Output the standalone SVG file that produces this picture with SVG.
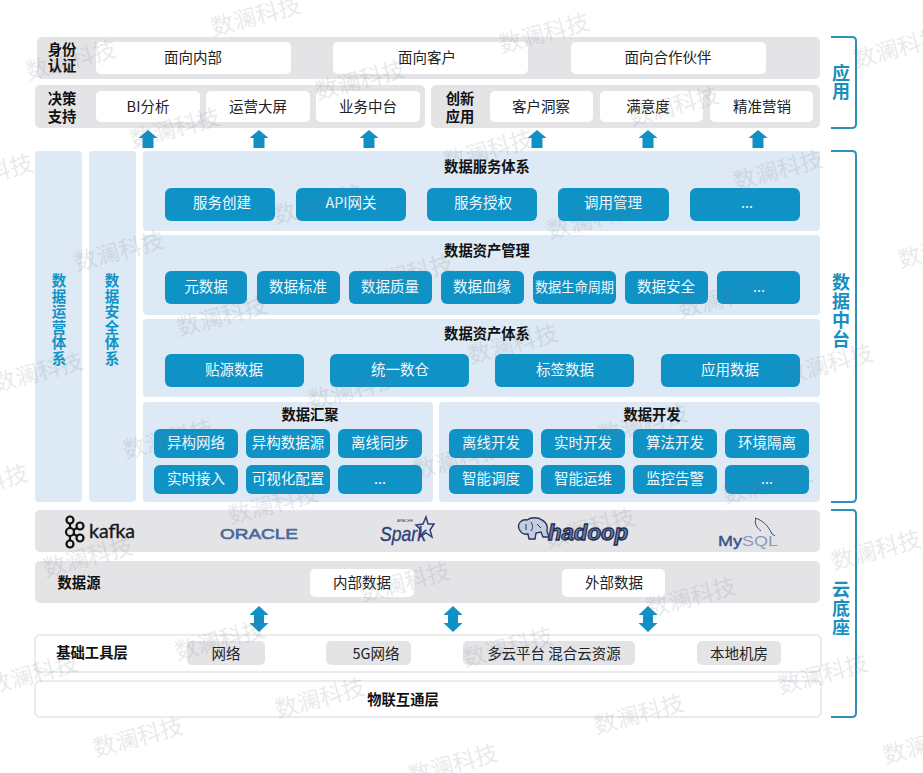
<svg xmlns="http://www.w3.org/2000/svg" width="923" height="773" viewBox="0 0 923 773">
<style>
text{font-family:"Noto Sans CJK SC","Liberation Sans",sans-serif;text-anchor:middle}
.g{fill:#e4e4e7}.w{fill:#fff}.p{fill:#dde9f4}.b{fill:#0f93c7}.o{fill:#fff;stroke:#e3e5e8;stroke-width:1.5}.c{fill:#e4e4e7}
.t{font-size:14.500px;fill:#222}.h{font-size:14.300px;font-weight:700;fill:#111}.bt{font-size:14.500px;fill:#f2fafd}
.v{font-size:14.500px;font-weight:700;fill:#0f93c7}.s{font-size:18px;font-weight:700;fill:#1a8fbd}
.br{fill:none;stroke:#2b93b7;stroke-width:2}
.wm{font-size:23px;fill:#6f7680;opacity:.15;font-weight:400}
.lg{font-family:"Liberation Sans",sans-serif}
</style>
<defs>
<path id="up" d="M0 0L9.500 8H5.500V18H-5.500V8H-9.500Z" fill="#1190c5"/>
<path id="dbl" d="M0 0L9.500 9H5V17H9.500L0 26L-9.500 17H-5V9H-9.500Z" fill="#1190c5"/>
</defs>

<g id="row-identity">
<rect class="g" x="37" y="37" width="783" height="42" rx="5"/>
<text class="h" x="62" y="55">身份</text><text class="h" x="62" y="71">认证</text>
<rect class="w" x="96" y="42" width="195" height="32" rx="5"/><text class="t" x="193" y="63">面向内部</text>
<rect class="w" x="333" y="42" width="195" height="32" rx="5"/><text class="t" x="427" y="63">面向客户</text>
<rect class="w" x="571" y="42" width="195" height="32" rx="5"/><text class="t" x="668" y="63">面向合作伙伴</text>
</g>
<g id="row-decision">
<rect class="g" x="35" y="85" width="390" height="43" rx="5"/>
<text class="h" x="62" y="104">决策</text><text class="h" x="62" y="122">支持</text>
<rect class="w" x="96" y="91" width="104" height="31" rx="5"/><text class="t" x="148" y="112">BI分析</text>
<rect class="w" x="206" y="91" width="104" height="31" rx="5"/><text class="t" x="258" y="112">运营大屏</text>
<rect class="w" x="316" y="91" width="104" height="31" rx="5"/><text class="t" x="368" y="112">业务中台</text>
</g>
<g id="row-innovation">
<rect class="g" x="431" y="85" width="389" height="43" rx="5"/>
<text class="h" x="460" y="104">创新</text><text class="h" x="460" y="122">应用</text>
<rect class="w" x="490" y="91" width="103" height="31" rx="5"/><text class="t" x="541" y="112">客户洞察</text>
<rect class="w" x="600" y="91" width="103" height="31" rx="5"/><text class="t" x="648" y="112">满意度</text>
<rect class="w" x="710" y="91" width="103" height="31" rx="5"/><text class="t" x="762" y="112">精准营销</text>
</g>
<g id="connectors">
<use href="#up" x="148" y="130"/><use href="#up" x="259" y="130"/><use href="#up" x="369" y="130"/>
<use href="#up" x="537" y="130"/><use href="#up" x="648" y="130"/><use href="#up" x="758" y="130"/>
<use href="#dbl" x="259" y="606"/><use href="#dbl" x="453" y="606"/><use href="#dbl" x="648" y="606"/>
</g>
<g id="col-ops"><rect class="p" x="35" y="151" width="47" height="351" rx="4"/>
<text class="v" x="59" y="286">数</text><text class="v" x="59" y="301.500">据</text><text class="v" x="59" y="317">运</text><text class="v" x="59" y="332.500">营</text><text class="v" x="59" y="348">体</text><text class="v" x="59" y="363.500">系</text></g>
<g id="col-security"><rect class="p" x="89" y="151" width="47" height="351" rx="4"/>
<text class="v" x="112" y="286">数</text><text class="v" x="112" y="301.500">据</text><text class="v" x="112" y="317">安</text><text class="v" x="112" y="332.500">全</text><text class="v" x="112" y="348">体</text><text class="v" x="112" y="363.500">系</text></g>

<g id="panel-service">
<rect class="p" x="143" y="151" width="677" height="80" rx="4"/>
<text class="h" x="487" y="172">数据服务体系</text>
<rect class="b" x="165" y="188" width="110" height="33" rx="6"/><text class="bt" x="222" y="208">服务创建</text>
<rect class="b" x="296" y="188" width="110" height="33" rx="6"/><text class="bt" x="351" y="208">API网关</text>
<rect class="b" x="427" y="188" width="110" height="33" rx="6"/><text class="bt" x="483" y="208">服务授权</text>
<rect class="b" x="558" y="188" width="111" height="33" rx="6"/><text class="bt" x="613" y="208">调用管理</text>
<rect class="b" x="690" y="188" width="110" height="33" rx="6"/><text class="bt" x="747" y="208">...</text>
</g>
<g id="panel-asset-mgmt">
<rect class="p" x="143" y="235" width="677" height="80" rx="4"/>
<text class="h" x="487" y="256">数据资产管理</text>
<rect class="b" x="165" y="271" width="82" height="33" rx="6"/><text class="bt" x="206" y="292">元数据</text>
<rect class="b" x="257" y="271" width="83" height="33" rx="6"/><text class="bt" x="298" y="292">数据标准</text>
<rect class="b" x="349" y="271" width="83" height="33" rx="6"/><text class="bt" x="390" y="292">数据质量</text>
<rect class="b" x="441" y="271" width="83" height="33" rx="6"/><text class="bt" x="482" y="292">数据血缘</text>
<rect class="b" x="533" y="271" width="83" height="33" rx="6"/><text class="bt" x="574.500" y="292" style="font-size:13.200px">数据生命周期</text>
<rect class="b" x="625" y="271" width="83" height="33" rx="6"/><text class="bt" x="666" y="292">数据安全</text>
<rect class="b" x="717" y="271" width="83" height="33" rx="6"/><text class="bt" x="759" y="292">...</text>
</g>
<g id="panel-asset-system">
<rect class="p" x="143" y="319" width="677" height="78" rx="4"/>
<text class="h" x="487" y="339">数据资产体系</text>
<rect class="b" x="165" y="354" width="139" height="33" rx="6"/><text class="bt" x="234" y="375">贴源数据</text>
<rect class="b" x="330" y="354" width="139" height="33" rx="6"/><text class="bt" x="400" y="375">统一数仓</text>
<rect class="b" x="495" y="354" width="139" height="33" rx="6"/><text class="bt" x="565" y="375">标签数据</text>
<rect class="b" x="661" y="354" width="139" height="33" rx="6"/><text class="bt" x="730" y="375">应用数据</text>
</g>
<g id="panel-collect">
<rect class="p" x="143" y="402" width="290" height="100" rx="4"/>
<text class="h" x="310" y="420">数据汇聚</text>
<rect class="b" x="154" y="429" width="84" height="29" rx="6"/><text class="bt" x="196" y="448">异构网络</text>
<rect class="b" x="246" y="429" width="84" height="29" rx="6"/><text class="bt" x="288" y="448">异构数据源</text>
<rect class="b" x="338" y="429" width="84" height="29" rx="6"/><text class="bt" x="380" y="448">离线同步</text>
<rect class="b" x="154" y="465" width="84" height="29" rx="6"/><text class="bt" x="196" y="484">实时接入</text>
<rect class="b" x="246" y="465" width="84" height="29" rx="6"/><text class="bt" x="288" y="484">可视化配置</text>
<rect class="b" x="338" y="465" width="84" height="29" rx="6"/><text class="bt" x="380" y="484">...</text>
</g>
<g id="panel-dev">
<rect class="p" x="439" y="402" width="381" height="100" rx="4"/>
<text class="h" x="652" y="420">数据开发</text>
<rect class="b" x="449" y="429" width="84" height="29" rx="6"/><text class="bt" x="491" y="448">离线开发</text>
<rect class="b" x="541" y="429" width="84" height="29" rx="6"/><text class="bt" x="583" y="448">实时开发</text>
<rect class="b" x="633" y="429" width="84" height="29" rx="6"/><text class="bt" x="675" y="448">算法开发</text>
<rect class="b" x="725" y="429" width="84" height="29" rx="6"/><text class="bt" x="767" y="448">环境隔离</text>
<rect class="b" x="449" y="465" width="84" height="29" rx="6"/><text class="bt" x="491" y="484">智能调度</text>
<rect class="b" x="541" y="465" width="84" height="29" rx="6"/><text class="bt" x="583" y="484">智能运维</text>
<rect class="b" x="633" y="465" width="84" height="29" rx="6"/><text class="bt" x="675" y="484">监控告警</text>
<rect class="b" x="725" y="465" width="84" height="29" rx="6"/><text class="bt" x="767" y="484">...</text>
</g>

<g id="row-logos">
<rect class="g" x="35" y="510" width="785" height="42" rx="5"/>
<g id="logo-kafka" fill="none" stroke="#111" stroke-width="2.200">
<circle cx="70" cy="520" r="3.500"/><circle cx="70" cy="532" r="4"/><circle cx="70" cy="544" r="3.500"/><circle cx="80" cy="526" r="3.500"/><circle cx="80" cy="538" r="3.500"/>
<path d="M70 523.500V528M70 536V540.500M73.500 530L77 528M73.500 534L77 536"/>
</g>
<text x="112" y="538" style="font-family:'Lato','Liberation Sans',sans-serif;font-size:20px;font-weight:400;fill:#1a1a1a;stroke:#1a1a1a;stroke-width:.4" textLength="46" lengthAdjust="spacingAndGlyphs">kafka</text>
<text class="lg" x="259" y="539" textLength="78" lengthAdjust="spacingAndGlyphs" style="font-size:14px;fill:#4a6a9c;stroke:#4a6a9c;stroke-width:.6">ORACLE</text>
<text class="lg" x="403" y="541" style="font-size:21px;font-style:italic;font-weight:400;fill:#2a3f78;stroke:#2a3f78;stroke-width:.3" textLength="46" lengthAdjust="spacingAndGlyphs">Spark</text>
<text class="lg" x="405" y="522" style="font-size:4px;fill:#2a3f78">APACHE</text>
<polygon points="426,517 428,524 434,524 430,530 432,537 426,533 420,537 421,530 416,525 423,524" fill="none" stroke="#2a3f78" stroke-width="1.500"/>
<g id="logo-hadoop">
<path d="M519 529C517 523 522 519 527 520C531 517 538 517 542 520C546 522 548 526 547 531L549 537L543 537L541 532L536 533L535 539L529 539L528 534C524 535 521 533 519 529Z" fill="#c3cde0" stroke="#26345f" stroke-width="1.400"/>
<path d="M526 524V530M531 522C533 525 533 528 531 531M537 524L541 528" fill="none" stroke="#26345f" stroke-width="1"/>
<text class="lg" x="588" y="540" textLength="80" lengthAdjust="spacingAndGlyphs" style="font-size:22px;font-style:italic;font-weight:700;fill:#6f7fa8;stroke:#1c2a52;stroke-width:1.300">hadoop</text>
</g>
<text class="lg" x="748" y="546" textLength="60" lengthAdjust="spacingAndGlyphs" style="font-size:15px"><tspan style="fill:#3a5288;stroke:#3a5288;stroke-width:.4">My</tspan><tspan style="fill:#8a9cc0">SQL</tspan></text>
<path d="M755 518C762 520 768 525 772 534L775 536M756 518C754 524 757 528 761 531" fill="none" stroke="#3d4a6a" stroke-width="1"/>
</g>
<g id="row-source">
<rect class="g" x="35" y="561" width="785" height="42" rx="5"/>
<text class="h" x="79" y="588">数据源</text>
<rect class="w" x="310" y="569" width="104" height="28" rx="5"/><text class="t" x="362" y="588">内部数据</text>
<rect class="w" x="562" y="569" width="103" height="28" rx="5"/><text class="t" x="614" y="588">外部数据</text>
</g>
<g id="row-base">
<rect class="o" x="35" y="635" width="786" height="37" rx="5"/>
<text class="h" x="92" y="658">基础工具层</text>
<rect class="c" x="187" y="641" width="78" height="24" rx="5"/><text class="t" x="226" y="659">网络</text>
<rect class="c" x="326" y="641" width="85" height="24" rx="5"/><text class="t" x="376" y="659">5G网络</text>
<rect class="c" x="463" y="641" width="172" height="24" rx="5"/><text class="t" x="554" y="659">多云平台 混合云资源</text>
<rect class="c" x="697" y="641" width="84" height="24" rx="5"/><text class="t" x="739" y="659">本地机房</text>
</g>
<g id="row-iot">
<rect class="o" x="35" y="681" width="786" height="36" rx="5"/>
<text class="h" x="403" y="705">物联互通层</text>
</g>
<g id="bracket-app"><path class="br" d="M831 37H852Q856 37 856 41V124Q856 128 852 128H831"/>
<text class="s" x="841" y="80">应</text><text class="s" x="841" y="98">用</text></g>
<g id="bracket-mid"><path class="br" d="M831 151H852Q856 151 856 155V498Q856 502 852 502H831"/>
<text class="s" x="841" y="289">数</text><text class="s" x="841" y="308">据</text><text class="s" x="841" y="327">中</text><text class="s" x="841" y="346">台</text></g>
<g id="bracket-cloud"><path class="br" d="M831 510H852Q856 510 856 514V713Q856 717 852 717H831"/>
<text class="s" x="841" y="596">云</text><text class="s" x="841" y="615">底</text><text class="s" x="841" y="634">座</text></g>

<g id="watermark">
<text class="wm" transform="translate(258,24) rotate(-15)">数澜科技</text>
<text class="wm" transform="translate(546,41) rotate(-15)">数澜科技</text>
<text class="wm" transform="translate(73,68) rotate(-15)">数澜科技</text>
<text class="wm" transform="translate(362,88) rotate(-15)">数澜科技</text>
<text class="wm" transform="translate(900,56) rotate(-15)">数澜科技</text>
<text class="wm" transform="translate(177,136) rotate(-15)">数澜科技</text>
<text class="wm" transform="translate(676,114) rotate(-15)">数澜科技</text>
<text class="wm" transform="translate(-10,182) rotate(-15)">数澜科技</text>
<text class="wm" transform="translate(780,178) rotate(-15)">数澜科技</text>
<text class="wm" transform="translate(490,158) rotate(-15)">数澜科技</text>
<text class="wm" transform="translate(320,212) rotate(-15)">数澜科技</text>
<text class="wm" transform="translate(594,227) rotate(-15)">数澜科技</text>
<text class="wm" transform="translate(121,259) rotate(-15)">数澜科技</text>
<text class="wm" transform="translate(410,282) rotate(-15)">数澜科技</text>
<text class="wm" transform="translate(945,256) rotate(-15)">数澜科技</text>
<text class="wm" transform="translate(224,324) rotate(-15)">数澜科技</text>
<text class="wm" transform="translate(725,306) rotate(-15)">数澜科技</text>
<text class="wm" transform="translate(515,352) rotate(-15)">数澜科技</text>
<text class="wm" transform="translate(830,372) rotate(-15)">数澜科技</text>
<text class="wm" transform="translate(40,380) rotate(-15)">数澜科技</text>
<text class="wm" transform="translate(355,397) rotate(-15)">数澜科技</text>
<text class="wm" transform="translate(645,432) rotate(-15)">数澜科技</text>
<text class="wm" transform="translate(170,447) rotate(-15)">数澜科技</text>
<text class="wm" transform="translate(460,467) rotate(-15)">数澜科技</text>
<text class="wm" transform="translate(-15,492) rotate(-15)">数澜科技</text>
<text class="wm" transform="translate(770,492) rotate(-15)">数澜科技</text>
<text class="wm" transform="translate(275,512) rotate(-15)">数澜科技</text>
<text class="wm" transform="translate(592,536) rotate(-15)">数澜科技</text>
<text class="wm" transform="translate(90,565) rotate(-15)">数澜科技</text>
<text class="wm" transform="translate(407,590) rotate(-15)">数澜科技</text>
<text class="wm" transform="translate(693,605) rotate(-15)">数澜科技</text>
<text class="wm" transform="translate(878,558) rotate(-15)">数澜科技</text>
<text class="wm" transform="translate(222,648) rotate(-15)">数澜科技</text>
<text class="wm" transform="translate(510,655) rotate(-15)">数澜科技</text>
<text class="wm" transform="translate(825,682) rotate(-15)">数澜科技</text>
<text class="wm" transform="translate(35,682) rotate(-15)">数澜科技</text>
<text class="wm" transform="translate(322,706) rotate(-15)">数澜科技</text>
<text class="wm" transform="translate(641,722) rotate(-15)">数澜科技</text>
<text class="wm" transform="translate(140,745) rotate(-15)">数澜科技</text>
<text class="wm" transform="translate(930,752) rotate(-15)">数澜科技</text>
<text class="wm" transform="translate(455,772) rotate(-15)">数澜科技</text>
</g>
</svg>
